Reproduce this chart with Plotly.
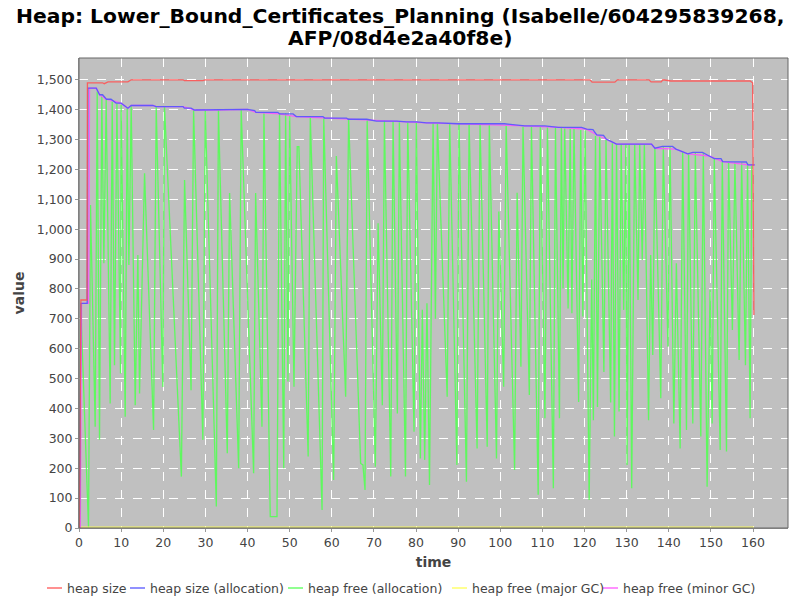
import plotly.graph_objects as go

# heap size
heap_t = [0.1, 0.45, 1.9, 2.0, 5.6, 6.0, 6.9, 11.6, 12.4, 24.7, 25.0, 29.4, 30.0,
          121.3, 121.8, 127.2, 127.8, 135.3, 135.8, 138.2, 138.6, 140.5, 159.3, 159.9, 160.2]
heap_v = [0, 763, 763, 1490, 1490, 1487, 1493, 1493, 1500, 1500, 1497, 1497, 1500,
          1500, 1492, 1492, 1500, 1500, 1493, 1493, 1500, 1496, 1496, 1490, 713]

# heap size (allocation)
alloc_t = [0.1, 0.45, 1.95, 2.1, 4.1, 4.5, 4.9, 5.6, 6.5, 7.6, 8.0, 8.8, 10.0, 11.0, 11.6, 12.4,
           17.5, 18.3, 24.7, 25.0, 26.6, 27.4, 32.6, 35.5, 40.0, 41.7, 42.0, 47.2, 47.6, 50.8,
           51.6, 57.9, 58.3, 63.5, 63.9, 68.3, 70.6, 75.4, 77.8, 80.2, 82.5, 85.2, 90.0, 101.0,
           105.8, 110.6, 113.8, 119.3, 120.5, 122.0, 122.9, 124.5, 125.2, 126.4, 127.6, 135.9,
           136.7, 138.5, 140.9, 141.7, 142.9, 144.5, 145.7, 148.0, 149.6, 150.8, 152.4, 152.8,
           158.4, 158.8, 160.4]
alloc_v = [0, 752, 752, 1472, 1472, 1461, 1450, 1450, 1435, 1435, 1430, 1422, 1422, 1410, 1405, 1414,
           1414, 1410, 1410, 1405, 1405, 1399, 1399, 1401, 1401, 1397, 1391, 1391, 1386, 1386,
           1377, 1377, 1372, 1372, 1368, 1368, 1362, 1362, 1359, 1359, 1356, 1356, 1353, 1353,
           1346, 1346, 1341, 1341, 1335, 1333, 1316, 1314, 1301, 1293, 1285, 1285,
           1271, 1277, 1277, 1268, 1262, 1252, 1257, 1257, 1245, 1236, 1236, 1226,
           1225, 1215, 1215]

# heap free (allocation)
free_t = [0.1, 0.4, 2.26, 2.73, 3.84, 4.32, 4.87, 5.42, 5.9, 6.45, 7.4, 7.88, 8.43, 9.0, 9.86, 10.0,
          10.97, 11.44, 11.84, 12.39, 13.34, 13.97, 14.37, 15.56, 17.7, 18.33, 19.9, 20.3, 24.3, 25.06,
          26.6, 27.2, 29.4, 29.97, 32.6, 33.1, 35.2, 35.75, 37.9, 38.5, 41.45, 41.93, 43.43, 43.9,
          45.4, 47.0, 47.6, 48.6, 49.05, 49.6, 50.0, 51.03, 51.8, 52.2, 54.4, 54.9, 57.7, 58.1,
          60.45, 61.09, 63.3, 64.0, 66.86, 67.4, 67.9, 68.4, 70.35, 71.0, 72.0, 72.5, 74.0, 74.55,
          75.57, 76.05, 77.5, 78.03, 79.53, 80.08, 81.03, 81.5, 82.06, 82.6, 83.2,
          84.05, 84.6, 85.07, 87.4, 88.0, 89.7, 90.2, 91.97, 92.6, 94.5, 95.2, 96.9, 97.4, 99.1, 99.65,
          100.8, 101.4, 103.4, 104.0, 104.9, 105.4, 106.9, 107.4, 109.0, 109.5, 110.6, 111.2, 112.6, 113.1,
          114.05, 114.5, 114.9, 115.3, 116.1, 116.6, 117.0, 117.5, 118.6, 119.1, 119.6, 120.15, 121.1,
          121.7, 122.1, 122.6, 123.07, 123.6, 124.6,
          125.1, 126.2, 126.6, 127.1, 127.6, 128.2, 128.7, 129.3, 129.8, 130.1, 130.6, 131.2, 131.9,
          132.7, 133.1, 133.7, 134.2, 135.2, 135.7, 136.2, 136.7, 138.1, 138.7, 139.8, 140.3, 141.2,
          141.8, 142.7, 143.3, 144.2, 144.7, 145.7, 146.3, 147.6, 148.2, 149.1, 149.8, 150.3, 150.8,
          152.2, 152.7, 153.7, 154.2, 155.1, 155.7, 156.7, 157.3, 158.2, 158.7, 159.3, 159.7, 160.2]
free_v = [30, 752, 0, 1081, 339, 1461, 295, 1450, 886, 1433, 417, 1427, 545, 1420, 517, 1416,
          372, 1405, 880, 1414, 411, 914, 450, 1187, 328, 1410, 472, 1410, 172, 1165,
          461, 1399, 295, 1399, 72, 1399, 250, 1121, 200, 1400, 183, 1121, 339, 1388,
          38, 38, 1388, 200, 1388, 490, 1383, 473, 1276, 1276, 239, 1377, 60, 1372,
          161, 1245, 439, 1372, 216, 211, 127, 1366, 205, 1020, 411, 1364, 172, 1361,
          383, 1358, 172, 1357, 322, 1357, 233, 730, 228, 752, 144,
          1355, 700, 1355, 439, 1355, 211, 1352, 155, 1351, 266, 1350, 272, 1349, 233, 1059,
          473, 1348, 194, 1122, 540, 1343, 445, 1343, 111, 1342, 367, 1341, 133, 1340,
          367, 1339, 802, 1338, 735, 1336, 719, 1335, 422, 1332, 708, 1330, 94,
          832, 361, 1312, 405, 1312, 522,
          1299, 420, 1288, 306, 1285, 390, 1285, 730, 1285, 211, 1285, 133, 1285,
          763, 1285, 897, 1285, 361, 914, 579, 1271, 434, 1277, 607, 1277, 350,
          886, 266, 1260, 328, 1254, 350, 1256, 306, 1254, 138, 797, 350, 1237,
          261, 1229, 256, 1226, 663, 1223, 562, 1223, 545, 1221, 367, 1215, 1215]

# heap free (major GC)
major_t = [0.3, 160.2]
major_v = [3, 3]

# heap free (minor GC)
minor_t = [0.3, 0.6, 2.3, 2.5, 4.1, 4.9, 6.5, 8.0, 10.0, 11.6, 12.4, 17.5, 18.3, 24.7, 27.4,
           32.6, 40.0, 42.0, 47.6, 51.6, 58.3, 63.9, 70.6, 77.8, 82.5, 90.0, 105.8, 113.8,
           120.5, 122.9, 125.2, 127.6, 135.9, 136.7, 141.7, 144.5, 149.6, 152.8, 158.8, 160.4]
minor_v = [0, 752, 752, 1472, 1472, 1450, 1435, 1430, 1422, 1405, 1414, 1414, 1410, 1410, 1399,
           1399, 1401, 1391, 1386, 1377, 1372, 1368, 1362, 1359, 1356, 1353, 1346, 1341,
           1335, 1316, 1301, 1285, 1285, 1271, 1268, 1252, 1245, 1226, 1215, 1215]

x_ticks = list(range(0, 170, 10))
y_ticks = list(range(0, 1600, 100))

title_lines = ["Heap: Lower_Bound_Certificates_Planning (Isabelle/604295839268,",
               "AFP/08d4e2a40f8e)"]

# the page body has an 8px margin, so the figure is 792x592 and starts at (8, 8)
OFF = 8
FW, FH = 800 - OFF, 600 - OFF
# plot area in page pixels
L, R, T, B = 79, 788, 58, 528
W, H = R - L, B - T


def px(x):
    return (x - L) / W


def py(y):
    return (B - y) / H


fig = go.Figure()
series = [
    ("heap size", heap_t, heap_v, "#FF5555"),
    ("heap size (allocation)", alloc_t, alloc_v, "#5555FF"),
    ("heap free (allocation)", free_t, free_v, "#55FF55"),
    ("heap free (major GC)", major_t, major_v, "#FFFF55"),
    ("heap free (minor GC)", minor_t, minor_v, "#FF55FF"),
]
# green and magenta below, red/blue on top
for i in [2, 3, 4, 1, 0]:
    name, t, v, c = series[i]
    fig.add_trace(go.Scatter(x=t, y=v, mode="lines", name=name, showlegend=False,
                             line=dict(color=c, width=1.3), opacity=0.9))

fig.update_layout(
    width=FW, height=FH, autosize=False,
    paper_bgcolor="white", plot_bgcolor="#C0C0C0",
    margin=dict(l=L - OFF, r=800 - R, t=T - OFF, b=600 - B, autoexpand=False),
    font=dict(family="DejaVu Sans", size=12, color="#444444"),
    showlegend=False,
)

# title
for line, ypix in zip(title_lines, [16, 38]):
    fig.add_annotation(text="<b>%s</b>" % line, xref="paper", yref="paper",
                       x=px(400), y=py(ypix), xanchor="center", yanchor="middle",
                       showarrow=False, font=dict(family="DejaVu Sans", size=20.3, color="black"))

# legend drawn by hand: short line + label
legend_x = [47, 130, 288, 452, 603]
for (name, t, v, c), lx in zip(series, legend_x):
    fig.add_shape(type="line", xref="paper", yref="paper",
                  x0=px(lx), x1=px(lx + 15), y0=py(588), y1=py(588),
                  line=dict(color=c, width=1.3))
    fig.add_annotation(text=name, xref="paper", yref="paper", x=px(lx + 18), y=py(588),
                       xanchor="left", yanchor="middle", showarrow=False,
                       font=dict(family="DejaVu Sans", size=12.5, color="#444444"))

fig.update_xaxes(range=[0, 168.3], tickvals=x_ticks, showgrid=True,
                 gridcolor="white", griddash="dash", gridwidth=1,
                 showline=True, linecolor="#999999", ticks="outside", ticklen=3,
                 tickcolor="#999999", zeroline=False, tickfont=dict(size=12.5),
                 title=dict(text="<b>time</b>", font=dict(size=14, color="#444444"), standoff=8))
fig.update_yaxes(range=[0, 1573], tickvals=y_ticks, tickformat=",", showgrid=True,
                 gridcolor="white", griddash="dash", gridwidth=1,
                 showline=True, linecolor="#999999", ticks="outside", ticklen=3,
                 tickcolor="#999999", zeroline=False, tickfont=dict(size=12.5),
                 title=dict(text="<b>value</b>", font=dict(size=14, color="#444444"), standoff=8))
fig.add_shape(type="rect", xref="paper", yref="paper", x0=0, x1=1, y0=0, y1=1,
              line=dict(color="#666666", width=1))

fig.write_html("out.html")
